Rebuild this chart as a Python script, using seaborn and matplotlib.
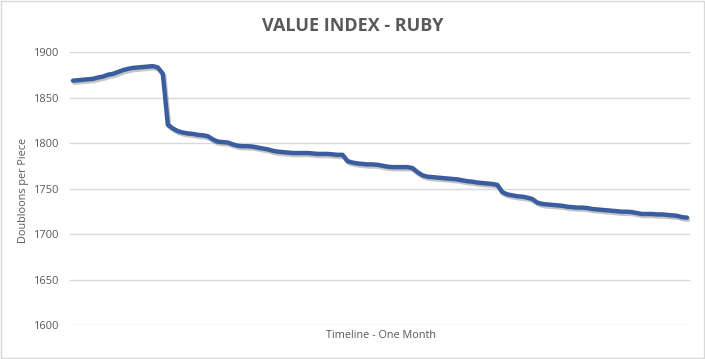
import numpy as np
import pandas as pd
import matplotlib
matplotlib.use("Agg")
import matplotlib.pyplot as plt
import matplotlib.patheffects as pe
import seaborn as sns

# ── DATA ──────────────────────────────────────────────────────────────────────
title = "VALUE INDEX - RUBY"
y_label = "Doubloons per Piece"
x_label = "Timeline - One Month"
y_ticks = [1600, 1650, 1700, 1750, 1800, 1850, 1900]

values = [
    1868.5, 1869, 1869.5, 1870, 1870.5, 1872, 1873, 1875, 1876, 1878,
    1880, 1881.5, 1882.5, 1883, 1883.5, 1884, 1884.5, 1883, 1876, 1820,
    1816, 1813, 1811.5, 1810.5, 1810, 1809, 1808.5, 1807.5, 1804, 1801.5,
    1801, 1800.5, 1798.5, 1797, 1796.5, 1796.5, 1796, 1795, 1794, 1793,
    1791.5, 1790.5, 1790, 1789.5, 1789, 1789, 1789, 1789, 1788.5, 1788,
    1788, 1788, 1787.5, 1787, 1787, 1780, 1778.5, 1777.5, 1777, 1776.5,
    1776.5, 1776, 1775, 1774, 1773.5, 1773.5, 1773.5, 1773.5, 1772.5, 1768,
    1764.5, 1763, 1762.5, 1762, 1761.5, 1761, 1760.5, 1760, 1759, 1758,
    1757.5, 1756.5, 1756, 1755.5, 1755, 1754, 1746, 1743.5, 1742.5, 1741.5,
    1741, 1740, 1738.5, 1734.5, 1733, 1732.5, 1732, 1731.5, 1731, 1730,
    1729.5, 1729, 1729, 1728.5, 1727.5, 1727, 1726.5, 1726, 1725.5, 1725,
    1724.5, 1724.5, 1724, 1723, 1722, 1722, 1722, 1721.5, 1721.5, 1721,
    1720.5, 1720, 1718.5, 1718,
]

df = pd.DataFrame({"step": range(len(values)), "value": values})

# ── STYLE ─────────────────────────────────────────────────────────────────────
sns.set_theme(style="white")
plt.rcParams["font.family"] = ["Open Sans", "DejaVu Sans"]

grey = "#595959"
fig = plt.figure(figsize=(7.05, 3.59), dpi=100)
ax = fig.add_axes([70 / 705, 1 - 325 / 359, 620 / 705, 273 / 359])

sns.lineplot(data=df, x="step", y="value", ax=ax, color="#3A5DA0", linewidth=3.2,
             solid_capstyle="round",
             path_effects=[pe.SimpleLineShadow(offset=(1, -1.5), alpha=0.25),
                           pe.Normal()])

ax.set_xlim(-0.6, len(values) - 0.4)
ax.set_ylim(1600, 1900)
ax.set_yticks(y_ticks)
ax.set_xticks([])
ax.yaxis.grid(True, color="#d9d9d9", linewidth=1)
ax.set_axisbelow(True)
for s in ax.spines.values():
    s.set_visible(False)
ax.tick_params(axis="y", length=0, pad=8.6, labelsize=8, labelcolor=grey)
ax.set_xlabel("")
ax.set_ylabel("")

fig.text(381 / 705, 1 - 335 / 359, x_label, ha="center", va="center",
         fontsize=7.8, color=grey)
fig.text(24 / 705, 1 - 190 / 359, y_label, ha="center", va="center",
         rotation=90, fontsize=7.8, color=grey)
fig.text(353 / 705, 1 - 31 / 359, title, ha="center", va="baseline",
         fontsize=13, fontweight="bold", color=grey)

# light border around the chart
fig.patches.append(plt.Rectangle((0.001, 0.002), 0.997, 0.995, transform=fig.transFigure,
                                 fill=False, edgecolor="#d9d9d9", linewidth=1))

fig.savefig("out.png", dpi=100)
